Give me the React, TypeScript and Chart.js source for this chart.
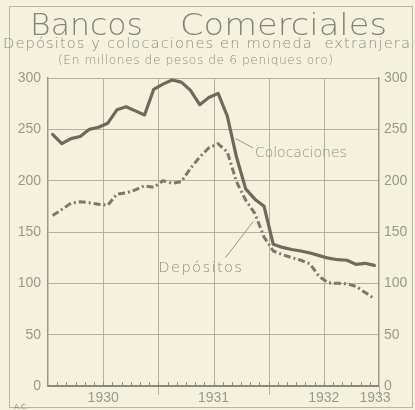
import React, { useEffect, useRef } from "react";
import { Chart, registerables } from "chart.js";
Chart.register(...registerables);

// Monthly values, Jan 1930 .. Dec 1932 (millions of pesos of 6d gold)
const years = ["1930", "1931", "1932"];
const monthsPerYear = ["Ene", "Feb", "Mar", "Abr", "May", "Jun", "Jul", "Ago", "Sep", "Oct", "Nov", "Dic"];
const colocaciones = [
  245, 236, 241, 243, 250, 252, 256, 269, 272, 268, 264, 289,
  294, 298, 296, 288, 274, 281, 285, 263, 223, 192, 182, 175,
  138, 135, 133, 131.5, 129.5, 127, 124.5, 123, 122.5, 118.5, 119.5, 117.5,
];
const depositos = [
  166, 172, 178, 179.5, 178.5, 177, 176, 187, 188, 191, 195, 193.5,
  200, 197.5, 199, 212, 223, 232, 236, 228, 199, 181, 168, 145,
  131.5, 128, 125, 122.5, 119, 106.5, 100.5, 100, 99.5, 97, 91, 85,
];
const yTicks = [0, 50, 100, 150, 200, 250, 300];
const xYearLabels = ["1930", "1931", "1932", "1933"];
const xYearLabelMonths = [6, 18, 30, 36];

const BG = "#f4f2dc";
const GRID = "#b3b1a0";
const INK = "#9a988a";
const LINE1 = "#6d6a5c";
const LINE2 = "#7c796b";

function fitText(
  ctx: CanvasRenderingContext2D,
  text: string,
  x0: number,
  x1: number,
  y: number,
  font: string,
  stretch = 1
) {
  ctx.save();
  ctx.font = font;
  ctx.textBaseline = "alphabetic";
  ctx.textAlign = "left";
  (ctx as any).letterSpacing = "0px";
  const w = ctx.measureText(text).width * stretch;
  const target = x1 - x0;
  let ls = (target - w) / Math.max(1, text.length - 1) / stretch;
  ctx.translate(x0, y);
  if (ls >= 0) {
    (ctx as any).letterSpacing = ls + "px";
    ctx.scale(stretch, 1);
  } else {
    ctx.scale(target / (w / stretch), 1);
  }
  ctx.fillText(text, 0, 0);
  ctx.restore();
}

const decor = {
  id: "decor",
  beforeDraw(chart: any) {
    const { ctx } = chart;
    ctx.save();
    ctx.fillStyle = BG;
    ctx.fillRect(0, 0, chart.width, chart.height);
    ctx.restore();
  },
  beforeDatasetsDraw(chart: any) {
    const { ctx, scales, chartArea } = chart;
    const x = scales.x;
    ctx.save();
    ctx.strokeStyle = GRID;
    ctx.lineWidth = 1;
    for (let m = 6; m < 36; m += 6) {
      const px = Math.round(x.getPixelForValue(m)) + 0.5;
      ctx.beginPath();
      ctx.moveTo(px, chartArea.top);
      ctx.lineTo(px, chartArea.bottom + (m % 12 === 0 ? 9 : 0));
      ctx.stroke();
    }
    const pr = Math.round(x.getPixelForValue(36)) + 0.5;
    ctx.beginPath();
    ctx.moveTo(pr, chartArea.bottom);
    ctx.lineTo(pr, chartArea.bottom + 9);
    ctx.stroke();
    ctx.strokeStyle = "#8f8d7e";
    for (let m = 1; m < 36; m++) {
      const px = Math.round(x.getPixelForValue(m)) + 0.5;
      ctx.beginPath();
      ctx.moveTo(px, chartArea.bottom);
      ctx.lineTo(px, chartArea.bottom - 4);
      ctx.stroke();
    }
    ctx.strokeStyle = "#8a887a";
    ctx.lineWidth = 2;
    ctx.beginPath();
    ctx.moveTo(chartArea.left, chartArea.bottom);
    ctx.lineTo(chartArea.right, chartArea.bottom);
    ctx.stroke();
    ctx.restore();
  },
  afterDraw(chart: any) {
    const { ctx, scales, chartArea } = chart;
    const x = scales.x;
    const y = scales.y;
    ctx.save();
    ctx.strokeStyle = "#b8b6a4";
    ctx.lineWidth = 1;
    ctx.strokeRect(9.5, 6.5, 403, 401);
    const light = '"DejaVu Sans", sans-serif';
    ctx.fillStyle = "#85837a";
    fitText(ctx, "Bancos", 30, 143, 35, `200 31px ${light}`, 1.12);
    fitText(ctx, "Comerciales", 180, 387, 35, `200 31px ${light}`, 1.12);
    ctx.fillStyle = "#8e8c80";
    fitText(ctx, "Depósitos y colocaciones en moneda  extranjera", 3, 410, 48, `200 14px ${light}`, 1.05);
    fitText(ctx, "(En millones de pesos de 6 peniques oro)", 58, 333, 64, `200 12px ${light}`, 1.02);
    ctx.fillStyle = INK;
    ctx.font = '14px "Liberation Sans", sans-serif';
    ctx.textAlign = "center";
    ctx.textBaseline = "alphabetic";
    xYearLabels.forEach((lab, i) => {
      let px = x.getPixelForValue(xYearLabelMonths[i]);
      if (i === xYearLabels.length - 1) px -= 4;
      ctx.fillText(lab, px, chartArea.bottom + 16);
    });
    ctx.strokeStyle = "#9a988a";
    ctx.lineWidth = 1;
    ctx.beginPath();
    ctx.moveTo(x.getPixelForValue(20.4), y.getPixelForValue(241));
    ctx.lineTo(x.getPixelForValue(22.3), y.getPixelForValue(232));
    ctx.stroke();
    ctx.beginPath();
    ctx.moveTo(x.getPixelForValue(22.3), y.getPixelForValue(160));
    ctx.lineTo(x.getPixelForValue(19.3), y.getPixelForValue(125));
    ctx.stroke();
    ctx.fillStyle = "#8e8c80";
    fitText(ctx, "Colocaciones", x.getPixelForValue(22.5), x.getPixelForValue(32.5), y.getPixelForValue(223), `200 14px ${light}`, 1.05);
    fitText(ctx, "Depósitos", x.getPixelForValue(12.0), x.getPixelForValue(21.1), y.getPixelForValue(111), `200 14px ${light}`, 1.05);
    ctx.font = '7px "DejaVu Sans", sans-serif';
    ctx.textAlign = "left";
    ctx.fillText("A.C.", 14, 409);
    ctx.restore();
  },
};

export default function App() {
  const ref = useRef<HTMLCanvasElement | null>(null);
  useEffect(() => {
    if (!ref.current) return;
    const points = (arr: number[]) =>
      arr.map((v, i) => ({ x: Math.floor(i / monthsPerYear.length) * 12 + (i % monthsPerYear.length) + 0.5, y: v }));
    const tickFont = { family: '"Liberation Sans Narrow", "Liberation Sans", sans-serif', size: 14 };
    const chart = new Chart(ref.current, {
      type: "line",
      data: {
        datasets: [
          {
            label: "Colocaciones",
            data: points(colocaciones),
            borderColor: LINE1,
            borderWidth: 3.2,
            pointRadius: 0,
            tension: 0,
            borderJoinStyle: "round",
            borderCapStyle: "round",
          },
          {
            label: "Depósitos",
            data: points(depositos),
            borderColor: LINE2,
            borderWidth: 3,
            pointRadius: 0,
            tension: 0,
            borderDash: [7, 3, 2, 3],
          },
        ],
      },
      options: {
        animation: false,
        responsive: false,
        maintainAspectRatio: false,
        layout: { padding: { top: 78, left: 0, right: 0, bottom: 0 } },
        plugins: { legend: { display: false }, tooltip: { enabled: false }, title: { display: false } },
        scales: {
          x: {
            type: "linear",
            min: 0,
            max: years.length * 12,
            ticks: { display: false },
            grid: { display: false, drawTicks: false },
            border: { display: false },
            afterFit: (s: any) => {
              s.height = 24;
            },
          },
          y: {
            position: "left",
            min: 0,
            max: 300,
            afterBuildTicks: (s: any) => {
              s.ticks = yTicks.map((v) => ({ value: v }));
            },
            ticks: { padding: 7, color: INK, font: tickFont },
            grid: { color: GRID, lineWidth: 1, drawTicks: false },
            border: { display: true, color: "#9a988a", width: 1.5 },
            afterFit: (s: any) => {
              s.width = 48;
            },
          },
          y2: {
            position: "right",
            min: 0,
            max: 300,
            afterBuildTicks: (s: any) => {
              s.ticks = yTicks.map((v) => ({ value: v }));
            },
            ticks: { padding: 5, color: INK, font: tickFont },
            grid: { display: false, drawTicks: false },
            border: { display: true, color: "#9a988a", width: 1.5 },
            afterFit: (s: any) => {
              s.width = 36;
            },
          },
        },
      },
      plugins: [decor],
    } as any);
    return () => chart.destroy();
  }, []);
  return (
    <div style={{ position: "absolute", left: 0, top: 0, width: 415, height: 410 }}>
      <canvas ref={ref} width={415} height={410} style={{ display: "block", width: 415, height: 410 }} />
    </div>
  );
}
